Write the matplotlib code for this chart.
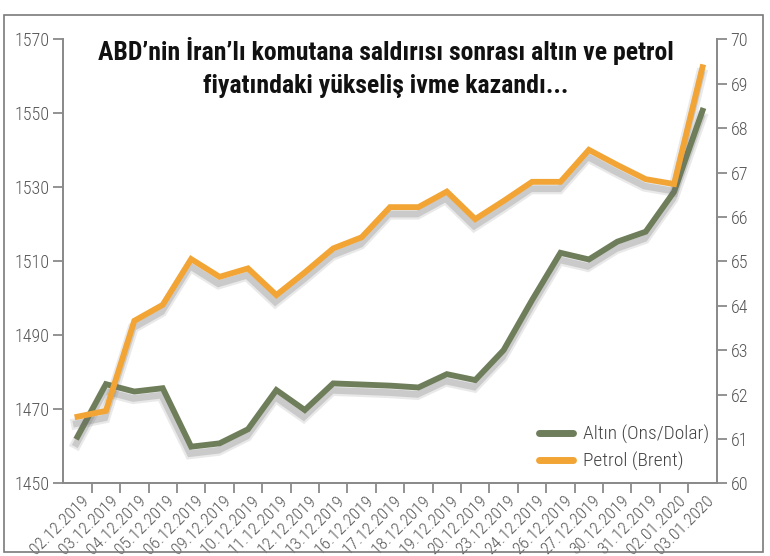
import os
import numpy as np
import matplotlib
matplotlib.use("Agg")
import matplotlib.pyplot as plt
from matplotlib import patheffects as pe
from matplotlib import font_manager as fm
from matplotlib.lines import Line2D
from matplotlib.patches import Rectangle
from matplotlib.transforms import ScaledTranslation

dates = ["02.12.2019", "03.12.2019", "04.12.2019", "05.12.2019", "06.12.2019",
         "09.12.2019", "10.12.2019", "11.12.2019", "12.12.2019", "13.12.2019",
         "16.12.2019", "17.12.2019", "18.12.2019", "19.12.2019", "20.12.2019",
         "23.12.2019", "24.12.2019", "26.12.2019", "27.12.2019", "30.12.2019",
         "31.12.2019", "02.01.2020", "03.01.2020"]
gold = [1462.6, 1476.8, 1474.8, 1475.7, 1459.9, 1460.8, 1464.6, 1475.2, 1469.8,
        1477.0, 1476.7, 1476.4, 1475.9, 1479.5, 1477.9, 1486.0, 1499.5, 1512.3,
        1510.5, 1515.3, 1518.0, 1528.8, 1550.7]
brent = [61.50, 61.63, 63.66, 64.02, 65.05, 64.65, 64.84, 64.24, 64.75, 65.29,
         65.54, 66.22, 66.22, 66.57, 65.95, 66.36, 66.79, 66.79, 67.51, 67.17,
         66.85, 66.74, 69.37]
gold_ticks = [1450, 1470, 1490, 1510, 1530, 1550, 1570]
brent_ticks = [60, 61, 62, 63, 64, 65, 66, 67, 68, 69, 70]
title_lines = ["ABD\u2019nin \u0130ran\u2019l\u0131 komutana sald\u0131r\u0131s\u0131 sonras\u0131 alt\u0131n ve petrol",
               "fiyat\u0131ndaki y\u00fckseli\u015f ivme kazand\u0131..."]
legend_labels = ["Alt\u0131n (Ons/Dolar)", "Petrol (Brent)"]

GREEN = "#6e7d5a"
ORANGE = "#f2a535"
AXC = "#8a8a8a"
TXT = "#555555"

# ---- pick a condensed font if one is installed ----
FAMILY_PREF = ["Noto Sans", "Roboto Condensed", "Open Sans Condensed", "Open Sans",
               "Roboto", "DejaVu Sans", "DejaVu Sans Condensed", "Liberation Sans Narrow"]


def width_class(fname):
    b = os.path.basename(fname).lower()
    if "extracondensed" in b or "extra-condensed" in b:
        return "xc"
    if "semicondensed" in b or "semi-condensed" in b:
        return "sc"
    if "condensed" in b:
        return "c"
    if "narrow" in b:
        return "n"
    return None


def weight_num(w):
    try:
        return int(w)
    except Exception:
        return {"bold": 700, "normal": 400, "regular": 400, "light": 300,
                "semibold": 600, "medium": 500}.get(str(w).lower(), 400)


def pick(width_pref, weight_pref):
    best, bestscore = None, None
    for f in fm.fontManager.ttflist:
        if f.style != "normal" or f.name not in FAMILY_PREF:
            continue
        wc = width_class(f.fname)
        if wc is None or wc not in width_pref:
            continue
        score = (width_pref.index(wc), abs(weight_num(f.weight) - weight_pref),
                 FAMILY_PREF.index(f.name))
        if bestscore is None or score < bestscore:
            best, bestscore = f, score
    return best.fname if best else None


title_font = pick(["xc", "c", "sc", "n"], 700)
label_font = pick(["c", "sc", "xc", "n"], 300)


def fp(path, size, fallback_weight="normal"):
    if path:
        return fm.FontProperties(fname=path, size=size)
    return fm.FontProperties(family=["DejaVu Sans"], size=size * 0.8, weight=fallback_weight)


W, H = 770, 556
fig = plt.figure(figsize=(W / 100, H / 100), dpi=100)
left, right, top, bottom = 63.3, 716.7, 39.3, 483.3
ax = fig.add_axes([left / W, 1 - bottom / H, (right - left) / W, (bottom - top) / H])
ax2 = ax.twinx()

x = np.arange(len(dates))


def shadow():
    return [pe.SimpleLineShadow(offset=(-0.8, -5.0), shadow_color="#707070", alpha=0.15, linewidth=8),
            pe.SimpleLineShadow(offset=(-0.8, -5.0), shadow_color="#707070", alpha=0.25, linewidth=4.8),
            pe.Normal()]


ax.plot(x, gold, color=GREEN, lw=4.2, solid_joinstyle="miter", path_effects=shadow(), zorder=3)
ax2.plot(x, brent, color=ORANGE, lw=4.2, solid_joinstyle="miter", path_effects=shadow(), zorder=3)

ax.set_xlim(-0.5, len(dates) - 0.5)
ax.set_ylim(1450, 1570)
ax2.set_ylim(60, 70)
ax.set_yticks(gold_ticks)
ax2.set_yticks(brent_ticks)

ax.set_xticks(x + 0.5)
ax.set_xticklabels(dates, rotation=45, ha="right", va="center", rotation_mode="anchor", color=TXT)
ax.xaxis.get_major_ticks()[-1].tick1line.set_visible(False)

for a in (ax, ax2):
    a.spines["top"].set_visible(False)
    for s in ("left", "right", "bottom"):
        a.spines[s].set_color(AXC)
        a.spines[s].set_linewidth(1.3)
    a.tick_params(direction="out", length=7, width=1.3, color=AXC, labelcolor=TXT, pad=3)
    a.set_facecolor("none")
ax.tick_params(axis="x", pad=3)

for lab in ax.get_xticklabels():
    lab.set_fontproperties(fp(label_font, 12.5))
    lab.set_transform(lab.get_transform() + ScaledTranslation(-0.05, -0.01, fig.dpi_scale_trans))
for lab in ax.get_yticklabels() + ax2.get_yticklabels():
    lab.set_fontproperties(fp(label_font, 13))

handles = [Line2D([0], [0], color=GREEN, lw=5, solid_capstyle="round"),
           Line2D([0], [0], color=ORANGE, lw=5, solid_capstyle="round")]
fig.legend(handles, legend_labels, loc="upper left", bbox_to_anchor=(539 / W, 1 - 425 / H),
           bbox_transform=fig.transFigure, frameon=False, borderpad=0, borderaxespad=0,
           handlelength=1.75, handletextpad=0.5, labelspacing=0.42,
           prop=fp(label_font, 14), labelcolor="#444444")

for i, line in enumerate(title_lines):
    fig.text(386 / W, 1 - (60 + 33 * i) / H, line, ha="center", va="baseline",
             fontproperties=fp(title_font, 18.5, "bold"), color="#111111")

fig.patches.append(Rectangle((4 / W, 1 - 552 / H), (763 - 4) / W, (552 - 15) / H,
                             transform=fig.transFigure, fill=False, ec="#7a7a7a", lw=1.2))

fig.savefig("out.png", dpi=100)
